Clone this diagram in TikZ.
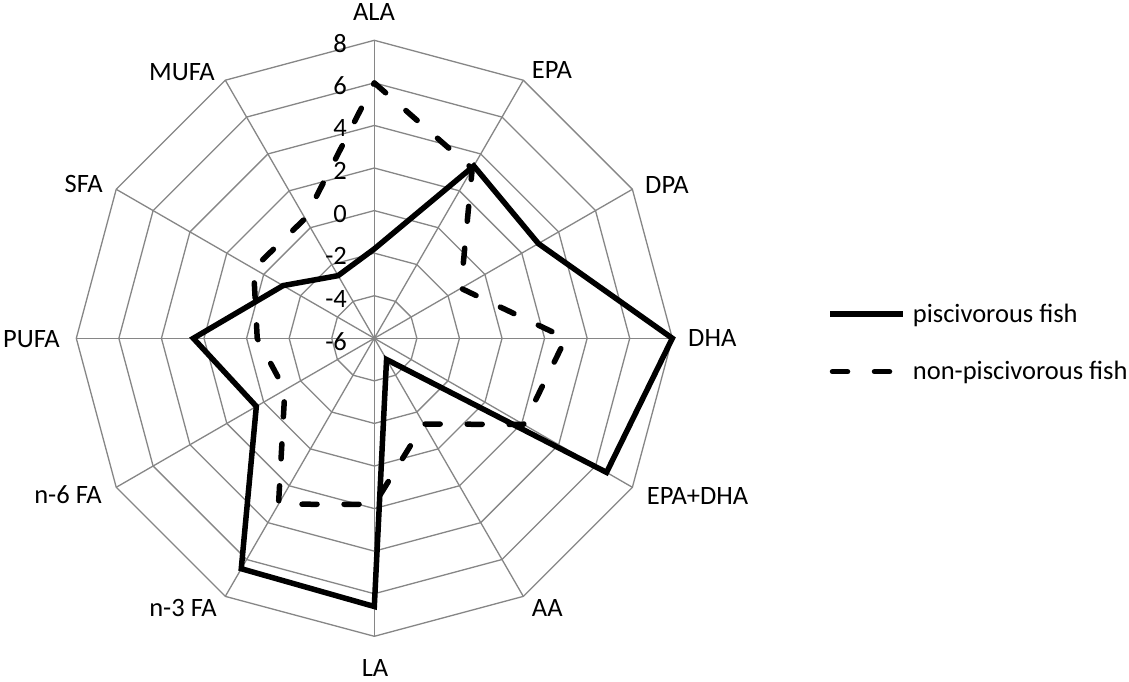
\documentclass[tikz,border=0pt]{standalone}
\usepackage{fontspec}
\setmainfont{Carlito}
\definecolor{gridgray}{RGB}{134,134,134}
\begin{document}
\begin{tikzpicture}[x=1pt,y=1pt,
  gridline/.style={draw=gridgray,line width=1.3pt},
  seriesa/.style={draw=black,line width=5.5pt,line join=miter},
  seriesb/.style={draw=black,line width=5.5pt,line cap=round,line join=round,dash pattern=on 15pt off 27pt},
  axlabel/.style={font=\fontsize{26.5}{31}\selectfont,inner sep=0pt},
  vallabel/.style={font=\fontsize{26.5}{31}\selectfont,inner sep=0pt,anchor=east},
  legtext/.style={font=\fontsize{26.5}{31}\selectfont,inner sep=0pt,anchor=west}]
\useasboundingbox (0,0) rectangle (1129,681);
\fill[white] (0,0) rectangle (1129,681);
\coordinate (c) at (374.3,342.7);
\begin{scope}[shift={(c)}]
  % rings
  \foreach \i in {1,...,7}{
    \draw[gridline] (90:{\i*42.571pt}) \foreach \a in {60,30,...,-240}{ -- (\a:{\i*42.571pt}) } -- cycle;
  }
  % spokes
  \foreach \a in {0,30,...,330}{
    \draw[gridline] (0,0) -- (\a:{7*42.571pt});
  }
  % value labels
  \foreach \v [count=\i from 0] in {-6,-4,-2,0,2,4,6,8}{
    \node[vallabel] (val\i) at (-27.3pt,{\i*42.571pt-3pt}) {\v};
  }
  % data points
  \foreach \v [count=\k from 0] in {-1.8,3.35,2.9,8.0,6.6,-4.85,6.6,6.5,0.4,2.5,-1.05,-2.6}{
    \coordinate (p\k) at ({90-30*\k}:{(\v+6)*21.2857pt});
  }
  \foreach \v [count=\k from 0] in {6.0,3.2,-1.3,3.0,2.1,-1.35,1.8,3.0,-1.15,-0.5,0.55,0.5}{
    \coordinate (q\k) at ({90-30*\k}:{(\v+6)*21.2857pt});
  }
\end{scope}
\draw[seriesb] (q0) -- (q1) -- (q2) -- (q3) -- (q4) -- (q5) -- (q6) -- (q7) -- (q8) -- (q9) -- (q10) -- (q11) -- cycle;
\draw[seriesa] (p0) -- (p1) -- (p2) -- (p3) -- (p4) -- (p5) -- (p6) -- (p7) -- (p8) -- (p9) -- (p10) -- (p11) -- cycle;
% axis labels
\node[axlabel] (lALA) at (374,668.5) {ALA};
\node[axlabel,anchor=west] (lEPA) at (531.7,610.5) {EPA};
\node[axlabel,anchor=west] (lDPA) at (645,496) {DPA};
\node[axlabel,anchor=west] (lDHA) at (688,343) {DHA};
\node[axlabel,anchor=west] (lEPADHA) at (646.7,185.5) {EPA+DHA};
\node[axlabel,anchor=west] (lAA) at (531.7,73) {AA};
\node[axlabel] (lLA) at (375,13) {LA};
\node[axlabel,anchor=east] (lN3) at (217,73) {n-3 FA};
\node[axlabel,anchor=east] (lN6) at (102,186) {n-6 FA};
\node[axlabel,anchor=east] (lPUFA) at (60,342) {PUFA};
\node[axlabel,anchor=east] (lSFA) at (103,497) {SFA};
\node[axlabel,anchor=east] (lMUFA) at (215,609) {MUFA};
% legend
\coordinate (la1) at (830,367);
\coordinate (la2) at (903,367);
\coordinate (lb1) at (832.5,309.3);
\coordinate (lb2) at (896,309.3);
\draw[seriesa,line cap=butt] (la1) -- (la2);
\draw[seriesb] (lb1) -- (lb2);
\node[legtext] (leg1) at (912.7,366) {piscivorous fish};
\node[legtext] (leg2) at (912.7,309) {non-piscivorous fish};
\end{tikzpicture}
\end{document}
